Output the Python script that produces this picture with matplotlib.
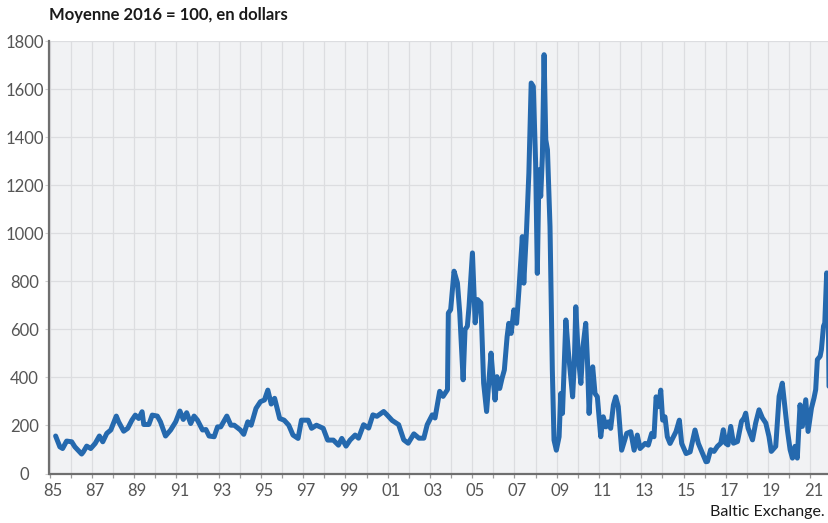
import matplotlib
matplotlib.use("Agg")
from matplotlib import pyplot as plt
from matplotlib import transforms

# Baltic Dry index, moyenne 2016 = 100
years = [
    1985.29, 1985.49, 1985.62, 1985.81, 1986.05, 1986.20, 1986.52, 1986.60, 1986.76, 1986.95,
    1987.16, 1987.36, 1987.52, 1987.71, 1987.90, 1988.16, 1988.27, 1988.51, 1988.70, 1988.90,
    1989.06, 1989.22, 1989.38, 1989.46, 1989.70, 1989.86, 1990.10, 1990.25, 1990.49, 1990.73,
    1990.97, 1991.17, 1991.33, 1991.49, 1991.68, 1991.84, 1992.00, 1992.24, 1992.40, 1992.55,
    1992.79, 1992.95, 1993.10, 1993.39, 1993.58, 1993.74, 1994.03, 1994.19, 1994.38, 1994.54,
    1994.77, 1994.98, 1995.17, 1995.33, 1995.49, 1995.65, 1995.89, 1996.10, 1996.32, 1996.52,
    1996.76, 1996.92, 1997.24, 1997.40, 1997.63, 1997.95, 1998.16, 1998.43, 1998.67, 1998.83,
    1999.03, 1999.22, 1999.46, 1999.62, 1999.86, 2000.10, 2000.30, 2000.49, 2000.81, 2000.97,
    2001.21, 2001.52, 2001.76, 2001.97, 2002.24, 2002.48, 2002.71, 2002.87, 2003.11, 2003.24,
    2003.46, 2003.62, 2003.83, 2003.87, 2003.98, 2004.14, 2004.30, 2004.41, 2004.57, 2004.66,
    2004.77, 2004.85, 2005.01, 2005.14, 2005.25, 2005.41, 2005.54, 2005.68, 2005.89, 2005.98,
    2006.08, 2006.17, 2006.30, 2006.41, 2006.52, 2006.65, 2006.73, 2006.84, 2006.97, 2007.10,
    2007.21, 2007.37, 2007.44, 2007.57, 2007.68, 2007.79, 2007.89, 2008.00, 2008.08, 2008.16,
    2008.24, 2008.32, 2008.40, 2008.48, 2008.56, 2008.68, 2008.79, 2008.87, 2008.98, 2009.11,
    2009.19, 2009.27, 2009.43, 2009.54, 2009.63, 2009.75, 2009.83, 2009.90, 2010.02, 2010.14,
    2010.24, 2010.37, 2010.45, 2010.53, 2010.62, 2010.70, 2010.81, 2010.92, 2011.08, 2011.20,
    2011.33, 2011.44, 2011.55, 2011.68, 2011.79, 2011.91, 2012.07, 2012.31, 2012.50, 2012.66,
    2012.81, 2012.94, 2013.18, 2013.33, 2013.49, 2013.60, 2013.70, 2013.81, 2013.92, 2014.01,
    2014.12, 2014.23, 2014.36, 2014.52, 2014.64, 2014.80, 2014.91, 2015.12, 2015.31, 2015.54,
    2015.70, 2015.90, 2016.06, 2016.13, 2016.28, 2016.44, 2016.60, 2016.76, 2016.88, 2016.99,
    2017.10, 2017.23, 2017.36, 2017.55, 2017.74, 2017.86, 2017.94, 2018.05, 2018.26, 2018.41,
    2018.57, 2018.73, 2018.89, 2019.04, 2019.15, 2019.36, 2019.52, 2019.67, 2019.79, 2019.91,
    2020.04, 2020.15, 2020.27, 2020.38, 2020.51, 2020.62, 2020.78, 2020.89, 2021.05, 2021.17,
    2021.25, 2021.33, 2021.46, 2021.52, 2021.62, 2021.68, 2021.77, 2021.84, 2021.88,
]
index = [
    156, 111, 104, 135, 132, 111, 81, 90, 114, 104,
    125, 156, 132, 167, 181, 239, 215, 176, 188, 222,
    243, 229, 257, 204, 204, 243, 239, 215, 156, 181,
    215, 260, 225, 253, 208, 239, 222, 181, 183, 156,
    153, 194, 194, 239, 201, 201, 181, 163, 215, 201,
    271, 299, 306, 347, 289, 313, 229, 222, 201, 160,
    146, 222, 222, 188, 201, 188, 139, 139, 118, 146,
    114, 139, 160, 147, 203, 189, 244, 238, 258, 244,
    221, 203, 140, 126, 165, 147, 147, 203, 244, 231,
    342, 321, 349, 668, 682, 842, 793, 668, 390, 599,
    613, 696, 918, 627, 724, 710, 376, 258, 501, 403,
    306, 403, 354, 396, 431, 569, 625, 583, 681, 625,
    764, 986, 792, 1014, 1250, 1625, 1611, 1292, 833, 1264,
    1153, 1320, 1743, 1389, 1347, 1028, 431, 139, 97, 153,
    333, 250, 639, 514, 431, 319, 458, 694, 486, 375,
    528, 625, 472, 250, 403, 444, 333, 319, 153, 236,
    194, 215, 188, 285, 319, 278, 97, 167, 174, 97,
    160, 104, 125, 118, 167, 153, 319, 278, 347, 222,
    236, 153, 125, 153, 174, 222, 125, 83, 90, 181,
    125, 83, 49, 50, 99, 92, 113, 126, 182, 126,
    119, 196, 126, 133, 217, 231, 251, 189, 140, 210,
    265, 231, 210, 154, 92, 113, 321, 376, 279, 182,
    99, 64, 113, 64, 286, 196, 307, 175, 272, 314,
    349, 474, 488, 515, 613, 626, 835, 724, 363,
]

label_years = list(range(1985, 2022, 2))
grid_years = list(range(1986, 2022))
y_ticks = list(range(0, 1801, 200))

title = "Moyenne 2016 = 100, en dollars"
source = "Baltic Exchange."

plt.rcParams['font.family'] = ['Lato', 'DejaVu Sans']

W, H = 829, 523
fig = plt.figure(figsize=(W / 100, H / 100), dpi=100)
ax = fig.add_axes([49.5 / W, 1 - 473.5 / H, 1 - 49.5 / W, (473.5 - 41) / H])
ax.set_facecolor('#f1f2f4')

ax.plot(years, index, color='#2569ae', lw=3.6, solid_joinstyle='round', solid_capstyle='round', zorder=3)

ax.set_xlim(1985, 2021.88)
ax.set_ylim(0, 1800)

ax.set_xticks(label_years)
ax.set_xticklabels([f"{y % 100:02d}" for y in label_years])
ax.set_xticks(grid_years, minor=True)
ax.set_yticks(y_ticks)
ax.set_yticklabels([str(v) for v in y_ticks])

ax.grid(True, which='both', axis='x', color='#dcdde0', lw=0.9, zorder=0)
ax.grid(True, which='major', axis='y', color='#dcdde0', lw=0.9, zorder=0)
ax.set_axisbelow(True)

for s in ['top', 'right']:
    ax.spines[s].set_visible(False)
ax.spines['left'].set_color('#6f6f6f')
ax.spines['left'].set_linewidth(1.6)
ax.spines['bottom'].set_color('#6f6f6f')
ax.spines['bottom'].set_linewidth(1.6)

ax.tick_params(axis='x', which='both', length=3, width=0.9, color='#9a9a9a', pad=4,
               labelsize=12, labelcolor='#555555')
ax.tick_params(axis='y', length=3, width=0.8, color='#d0d0d0', pad=15,
               labelsize=12, labelcolor='#555555')
for lab in ax.get_yticklabels():
    lab.set_horizontalalignment('center')
off = transforms.ScaledTranslation(0.03, 0, fig.dpi_scale_trans)
for lab in ax.get_xticklabels():
    lab.set_transform(lab.get_transform() + off)

fig.text(49 / W, 1 - 20 / H, title, fontsize=12, fontweight='bold', color='#1a1a1a',
         ha='left', va='baseline')
fig.text(825 / W, 1 - 516 / H, source, fontsize=11.5, color='#1a1a1a',
         ha='right', va='baseline')

fig.savefig("out.png", dpi=100)
